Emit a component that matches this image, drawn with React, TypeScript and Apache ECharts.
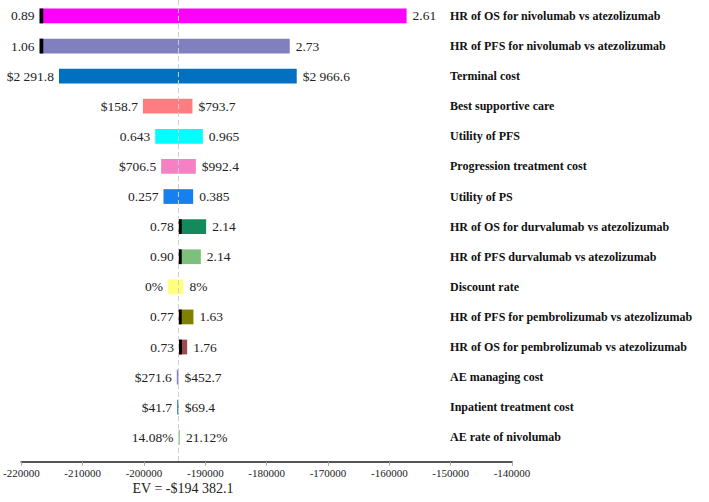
import React, { useEffect, useRef } from "react";
import * as echarts from "echarts";

const categories = [
  "HR of OS for nivolumab vs atezolizumab",
  "HR of PFS for nivolumab vs atezolizumab",
  "Terminal cost",
  "Best supportive care",
  "Utility of PFS",
  "Progression treatment cost",
  "Utility of PS",
  "HR of OS for durvalumab vs atezolizumab",
  "HR of PFS durvalumab vs atezolizumab",
  "Discount rate",
  "HR of PFS for pembrolizumab vs atezolizumab",
  "HR of OS for pembrolizumab vs atezolizumab",
  "AE managing cost",
  "Inpatient treatment cost",
  "AE rate of nivolumab",
];
const lowValues = [
  -217020, -217020, -213860, -200179, -198175, -197199, -196824, -194348,
  -194348, -196107, -194348, -194300, -194650, -194600, -194382,
];
const highValues = [
  -157181, -176237, -175097, -192100, -190406, -191547, -191986, -189869,
  -190732, -193566, -191937, -192964, -194380, -194350, -194200,
];
const markerWidths = [600, 600, 0, 0, 0, 0, 0, 500, 500, 0, 500, 500, 0, 0, 0];
const lowLabels = [
  "0.89", "1.06", "$2 291.8", "$158.7", "0.643", "$706.5", "0.257", "0.78",
  "0.90", "0%", "0.77", "0.73", "$271.6", "$41.7", "14.08%",
];
const highLabels = [
  "2.61", "2.73", "$2 966.6", "$793.7", "0.965", "$992.4", "0.385", "2.14",
  "2.14", "8%", "1.63", "1.76", "$452.7", "$69.4", "21.12%",
];
const barColors = [
  "#FF00FF", "#8080C0", "#0070C0", "#FF7C80", "#00FFFF", "#F580C4", "#1580F0",
  "#138A5C", "#7CC07C", "#FFFF80", "#808000", "#A04A50", "#8080C0", "#2E8B8B",
  "#90D090",
];
const EV = -194382.1;
const evLabel = "EV = -$194 382.1";
const xTicks = { min: -220000, max: -140000, interval: 10000 };
const yMin = -0.53;
const yMax = 14.81;

const FONT = "Liberation Serif";

export default function App() {
  const ref = useRef<HTMLDivElement>(null);
  useEffect(() => {
    if (!ref.current) return;
    const chart = echarts.init(ref.current, null, { renderer: "svg" });
    const data = categories.map((_, i) => [
      i,
      lowValues[i],
      highValues[i],
      markerWidths[i],
    ]);
    chart.setOption({
      animation: false,
      textStyle: { fontFamily: FONT },
      grid: { left: 21, right: 197, top: 0, height: 461.7, containLabel: false },
      xAxis: {
        type: "value",
        min: xTicks.min,
        max: xTicks.max,
        interval: xTicks.interval,
        splitLine: { show: false },
        axisLine: {
          show: true,
          onZero: false,
          lineStyle: { color: "#555", width: 2 },
        },
        axisTick: { show: true, length: 4, lineStyle: { color: "#aaa" } },
        axisLabel: {
          color: "#222",
          fontFamily: FONT,
          fontSize: 11,
          margin: 6,
          formatter: (v: number) => String(v),
        },
      },
      yAxis: {
        type: "value",
        inverse: true,
        min: yMin,
        max: yMax,
        show: false,
      },
      graphic: [
        {
          type: "text",
          x: 183,
          y: 488,
          style: {
            text: evLabel,
            fontFamily: FONT,
            fontSize: 14,
            fill: "#222",
            align: "center",
            verticalAlign: "middle",
          },
        },
      ],
      series: [
        {
          type: "custom",
          encode: { x: [1, 2], y: 0 },
          data,
          z: 2,
          renderItem: (params: any, api: any) => {
            const i = api.value(0);
            const lo = api.value(1);
            const hi = api.value(2);
            const mw = api.value(3);
            const p0 = api.coord([lo, i]);
            const p1 = api.coord([hi, i]);
            const h = api.size([0, 1])[1] * 0.49;
            const w = Math.max(p1[0] - p0[0], 1.5);
            const children: any[] = [
              {
                type: "rect",
                shape: { x: p0[0], y: p0[1] - h / 2, width: w, height: h },
                style: { fill: barColors[i] },
              },
            ];
            if (mw > 0) {
              const pm = api.coord([lo + mw, i]);
              children.push({
                type: "rect",
                shape: {
                  x: p0[0],
                  y: p0[1] - h / 2,
                  width: pm[0] - p0[0],
                  height: h,
                },
                style: { fill: "#000" },
              });
            }
            children.push({
              type: "text",
              x: p0[0] - 5,
              y: p0[1],
              style: {
                text: lowLabels[i],
                fontFamily: FONT,
                fontSize: 13.5,
                fill: "#222",
                align: "right",
                verticalAlign: "middle",
              },
            });
            children.push({
              type: "text",
              x: p0[0] + w + 6,
              y: p0[1],
              style: {
                text: highLabels[i],
                fontFamily: FONT,
                fontSize: 13.5,
                fill: "#222",
                align: "left",
                verticalAlign: "middle",
              },
            });
            children.push({
              type: "text",
              x: 450,
              y: p0[1],
              style: {
                text: categories[i],
                fontFamily: FONT,
                fontSize: 12,
                fontWeight: "bold",
                fill: "#111",
                align: "left",
                verticalAlign: "middle",
              },
            });
            return { type: "group", children };
          },
        },
        {
          type: "line",
          data: [
            [EV, yMin],
            [EV, yMax],
          ],
          symbol: "none",
          z: 5,
          lineStyle: { color: "#d4ccd4", width: 1, type: [5, 3] },
        },
      ],
    });
    return () => chart.dispose();
  }, []);
  return (
    <div
      ref={ref}
      style={{ width: 709, height: 502, position: "absolute", left: 0, top: 0 }}
    />
  );
}
